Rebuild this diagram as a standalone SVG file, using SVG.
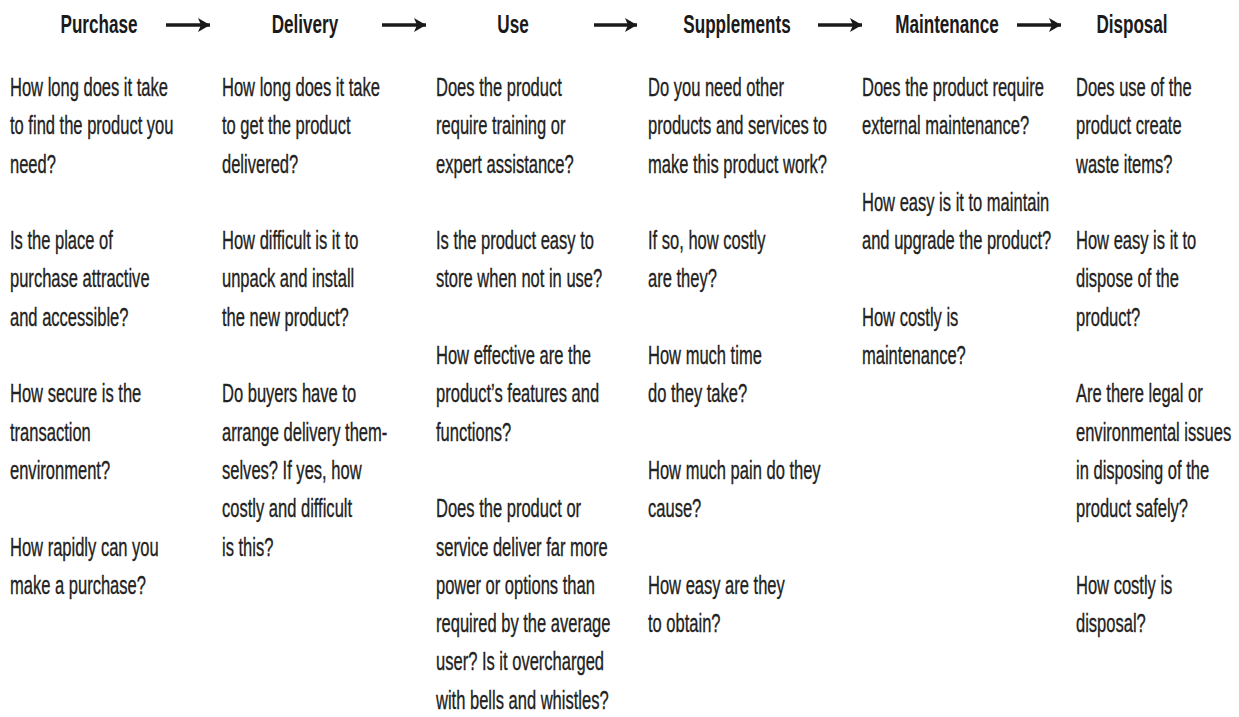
<svg xmlns="http://www.w3.org/2000/svg" width="1239" height="717" viewBox="0 0 1239 717">
<style>
.h{font-family:"Liberation Sans",Arial,sans-serif;font-weight:bold;font-size:25px;fill:#1a1a1a;text-anchor:middle}
.b{font-family:"Liberation Sans",Arial,sans-serif;font-size:26px;fill:#222;stroke:#222;stroke-width:0.35}
.a{stroke:#1a1a1a;stroke-width:3.5;fill:none}
</style>
<defs>
<marker id="ah" markerUnits="userSpaceOnUse" markerWidth="14" markerHeight="16" refX="12" refY="8" orient="auto">
<path d="M0,1 L12,8 L0,15 L3,8 Z" fill="#1a1a1a"/>
</marker>
</defs>
<rect width="1239" height="717" fill="#fff"/>
<g id="connectors">
<line class="a" x1="166" y1="25" x2="210" y2="25" marker-end="url(#ah)"/>
<line class="a" x1="382" y1="25" x2="426" y2="25" marker-end="url(#ah)"/>
<line class="a" x1="594" y1="25" x2="637" y2="25" marker-end="url(#ah)"/>
<line class="a" x1="818" y1="25" x2="862" y2="25" marker-end="url(#ah)"/>
<line class="a" x1="1017" y1="25" x2="1061" y2="25" marker-end="url(#ah)"/>
</g>
<g id="purchase">
<text class="h" transform="translate(99,33) scale(0.684,1)">Purchase</text>
<g transform="translate(10,0) scale(0.636,1)">
<text x="0" y="96" class="b">How long does it take</text>
<text x="0" y="134.3" class="b">to find the product you</text>
<text x="0" y="172.6" class="b">need?</text>
<text x="0" y="249.2" class="b">Is the place of</text>
<text x="0" y="287.5" class="b">purchase attractive</text>
<text x="0" y="325.8" class="b">and accessible?</text>
<text x="0" y="402.4" class="b">How secure is the</text>
<text x="0" y="440.7" class="b">transaction</text>
<text x="0" y="479" class="b">environment?</text>
<text x="0" y="555.6" class="b">How rapidly can you</text>
<text x="0" y="593.9" class="b">make a purchase?</text>
</g>
</g>
<g id="delivery">
<text class="h" transform="translate(305,33) scale(0.684,1)">Delivery</text>
<g transform="translate(222,0) scale(0.636,1)">
<text x="0" y="96" class="b">How long does it take</text>
<text x="0" y="134.3" class="b">to get the product</text>
<text x="0" y="172.6" class="b">delivered?</text>
<text x="0" y="249.2" class="b">How difficult is it to</text>
<text x="0" y="287.5" class="b">unpack and install</text>
<text x="0" y="325.8" class="b">the new product?</text>
<text x="0" y="402.4" class="b">Do buyers have to</text>
<text x="0" y="440.7" class="b">arrange delivery them-</text>
<text x="0" y="479" class="b">selves? If yes, how</text>
<text x="0" y="517.3" class="b">costly and difficult</text>
<text x="0" y="555.6" class="b">is this?</text>
</g>
</g>
<g id="use">
<text class="h" transform="translate(513,33) scale(0.684,1)">Use</text>
<g transform="translate(436,0) scale(0.636,1)">
<text x="0" y="96" class="b">Does the product</text>
<text x="0" y="134.3" class="b">require training or</text>
<text x="0" y="172.6" class="b">expert assistance?</text>
<text x="0" y="249.2" class="b">Is the product easy to</text>
<text x="0" y="287.5" class="b">store when not in use?</text>
<text x="0" y="364.1" class="b">How effective are the</text>
<text x="0" y="402.4" class="b">product’s features and</text>
<text x="0" y="440.7" class="b">functions?</text>
<text x="0" y="517.3" class="b">Does the product or</text>
<text x="0" y="555.6" class="b">service deliver far more</text>
<text x="0" y="593.9" class="b">power or options than</text>
<text x="0" y="632.2" class="b">required by the average</text>
<text x="0" y="670.5" class="b">user? Is it overcharged</text>
<text x="0" y="708.8" class="b">with bells and whistles?</text>
</g>
</g>
<g id="supplements">
<text class="h" transform="translate(737,33) scale(0.684,1)">Supplements</text>
<g transform="translate(648,0) scale(0.636,1)">
<text x="0" y="96" class="b">Do you need other</text>
<text x="0" y="134.3" class="b">products and services to</text>
<text x="0" y="172.6" class="b">make this product work?</text>
<text x="0" y="249.2" class="b">If so, how costly</text>
<text x="0" y="287.5" class="b">are they?</text>
<text x="0" y="364.1" class="b">How much time</text>
<text x="0" y="402.4" class="b">do they take?</text>
<text x="0" y="479" class="b">How much pain do they</text>
<text x="0" y="517.3" class="b">cause?</text>
<text x="0" y="593.9" class="b">How easy are they</text>
<text x="0" y="632.2" class="b">to obtain?</text>
</g>
</g>
<g id="maintenance">
<text class="h" transform="translate(947,33) scale(0.684,1)">Maintenance</text>
<g transform="translate(862,0) scale(0.636,1)">
<text x="0" y="96" class="b">Does the product require</text>
<text x="0" y="134.3" class="b">external maintenance?</text>
<text x="0" y="210.9" class="b">How easy is it to maintain</text>
<text x="0" y="249.2" class="b">and upgrade the product?</text>
<text x="0" y="325.8" class="b">How costly is</text>
<text x="0" y="364.1" class="b">maintenance?</text>
</g>
</g>
<g id="disposal">
<text class="h" transform="translate(1132,33) scale(0.684,1)">Disposal</text>
<g transform="translate(1076,0) scale(0.636,1)">
<text x="0" y="96" class="b">Does use of the</text>
<text x="0" y="134.3" class="b">product create</text>
<text x="0" y="172.6" class="b">waste items?</text>
<text x="0" y="249.2" class="b">How easy is it to</text>
<text x="0" y="287.5" class="b">dispose of the</text>
<text x="0" y="325.8" class="b">product?</text>
<text x="0" y="402.4" class="b">Are there legal or</text>
<text x="0" y="440.7" class="b">environmental issues</text>
<text x="0" y="479" class="b">in disposing of the</text>
<text x="0" y="517.3" class="b">product safely?</text>
<text x="0" y="593.9" class="b">How costly is</text>
<text x="0" y="632.2" class="b">disposal?</text>
</g>
</g>
</svg>
